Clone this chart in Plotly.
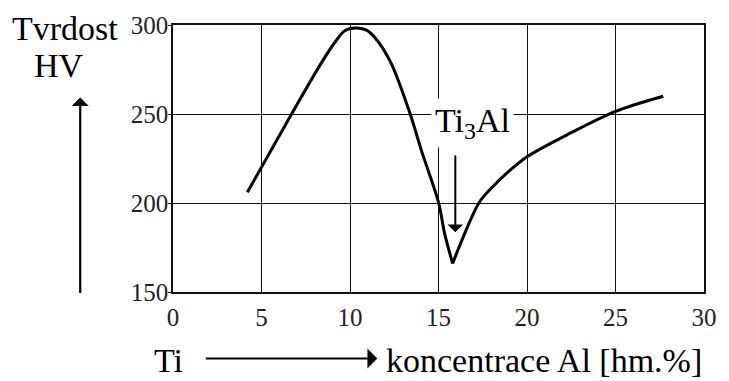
import plotly.graph_objects as go

# Data
x_left = [4.2, 6.7, 8.4, 9.2, 9.7, 10.3, 10.9, 11.4, 12.3, 13.4, 14.05, 15.0, 15.35, 15.8]
y_left = [206, 250, 279, 291, 296.8, 298.3, 297.2, 293, 279, 250, 229, 200.3, 182.7, 166]
x_right = [15.8, 16.4, 17.3, 18.05, 19.0, 20.0, 22.5, 25.0, 27.7]
y_right = [166, 181, 200.3, 209, 218, 226, 239.5, 251.5, 260]

x_ticks = [0, 5, 10, 15, 20, 25, 30]
y_ticks = [150, 200, 250, 300]

FONT = "Liberation Serif, Times New Roman, serif"
BIG = 34
TICK = 25

fig = go.Figure()
for xs, ys in [(x_left, y_left), (x_right, y_right)]:
    fig.add_trace(go.Scatter(x=xs, y=ys, mode="lines",
                             line=dict(color="black", width=3, shape="spline", smoothing=0.9),
                             showlegend=False, hoverinfo="skip"))

fig.update_layout(
    width=729, height=381,
    margin=dict(l=173, r=18, t=23, b=89),
    paper_bgcolor="white", plot_bgcolor="white",
    font=dict(family=FONT, color="black", size=TICK),
    showlegend=False,
)
fig.update_xaxes(range=[0, 30], tickvals=x_ticks, ticktext=[str(v) for v in x_ticks],
                 showgrid=True, gridcolor="#111", gridwidth=1.3,
                 showline=True, linecolor="#111", linewidth=1.6, mirror=True,
                 ticks="", zeroline=False, ticklabelstandoff=2,
                 tickfont=dict(family=FONT, size=TICK, color="#222"))
fig.update_yaxes(range=[150, 300], tickvals=y_ticks, ticktext=[str(v) for v in y_ticks],
                 showgrid=True, gridcolor="#111", gridwidth=1.3,
                 showline=True, linecolor="#111", linewidth=1.6, mirror=True,
                 ticks="outside", ticklen=3, tickcolor="#111", zeroline=False,
                 ticklabelstandoff=-5,
                 tickfont=dict(family=FONT, size=TICK, color="#222"))

def px2paper(px, py):
    return (px - 173) / 538, (292 - py) / 269

ann = []
ann.append(dict(x=16.9, y=245, xref="x", yref="y", text="Ti<sub>3</sub>Al",
                showarrow=False, bgcolor="white", borderpad=3,
                font=dict(family=FONT, size=BIG, color="black"),
                xanchor="center", yanchor="middle"))
ann.append(dict(x=15.95, y=183.5, xref="x", yref="y", ax=15.95, ay=227.5,
                axref="x", ayref="y", text="", showarrow=True,
                arrowhead=1, arrowsize=1.3, arrowwidth=2, arrowcolor="black"))
tx, ty = px2paper(64, 27)
ann.append(dict(x=tx, y=ty, xref="paper", yref="paper", text="Tvrdost", showarrow=False,
                font=dict(family=FONT, size=BIG, color="black"), xanchor="center", yanchor="middle"))
tx, ty = px2paper(58, 64)
ann.append(dict(x=tx, y=ty, xref="paper", yref="paper", text="HV", showarrow=False,
                font=dict(family=FONT, size=BIG, color="black"), xanchor="center", yanchor="middle"))
tx, ty = px2paper(79, 96)
ann.append(dict(x=tx, y=ty, xref="paper", yref="paper", ax=0, ay=197, text="",
                showarrow=True, arrowhead=1, arrowsize=1.3, arrowwidth=2.2, arrowcolor="black"))
tx, ty = px2paper(168, 381)
ann.append(dict(x=tx, y=ty, xref="paper", yref="paper", text="Ti", showarrow=False,
                borderpad=0, font=dict(family=FONT, size=34, color="black"),
                xanchor="center", yanchor="bottom"))
tx, ty = px2paper(380, 359)
ann.append(dict(x=tx, y=ty, xref="paper", yref="paper", ax=-173, ay=0, text="",
                showarrow=True, arrowhead=1, arrowsize=1.5, arrowwidth=2.2, arrowcolor="black"))
tx, ty = px2paper(388, 381)
ann.append(dict(x=tx, y=ty, xref="paper", yref="paper", text="koncentrace Al [hm.%]",
                showarrow=False, borderpad=0, font=dict(family=FONT, size=34, color="black"),
                xanchor="left", yanchor="bottom"))
fig.update_layout(annotations=ann)

fig.write_html("out.html")
